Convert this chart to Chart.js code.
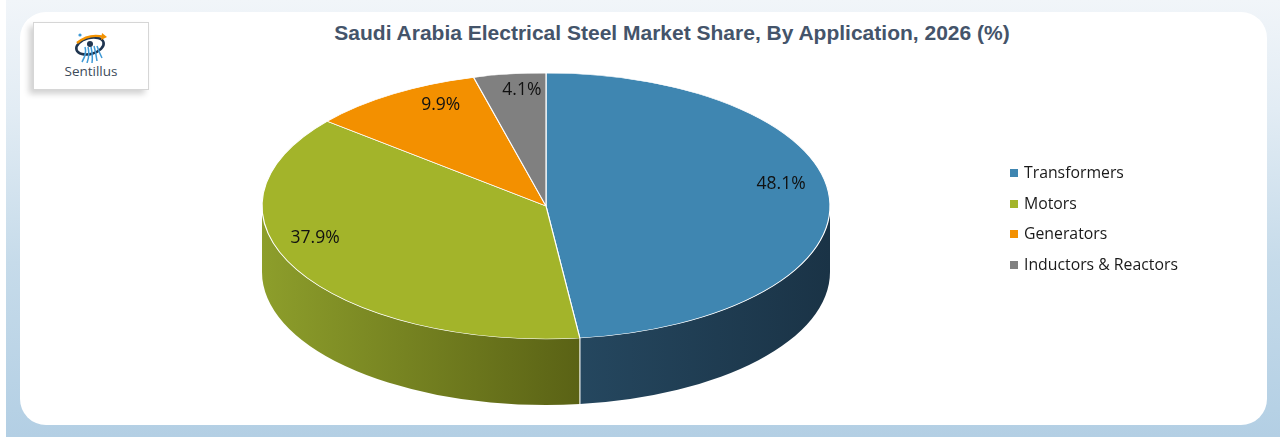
<!DOCTYPE html>
<html>
<head>
<meta charset="utf-8">
<script src="https://cdn.jsdelivr.net/npm/chart.js@4.4.1/dist/chart.umd.min.js"></script>
<style>
  html, body { margin: 0; padding: 0; background: #ffffff; }
  body { width: 1280px; height: 438px; position: relative; overflow: hidden; font-family: "Open Sans", sans-serif; }
  .frame {
    position: absolute; left: 6px; top: 0; width: 1274px; height: 437px;
    background: linear-gradient(to bottom, #f1f5f9 0%, #e2ecf4 25%, #c6dbea 60%, #b3cfe4 100%);
  }
  .card {
    position: absolute; left: 20px; top: 12px; width: 1247px; height: 413px;
    background: #ffffff; border-radius: 26px;
  }
  .logo {
    position: absolute; left: 33px; top: 22px; width: 114px; height: 66px;
    background: #ffffff; border: 1px solid #d6d6d6;
    box-shadow: -4px 4px 6px rgba(0,0,0,0.18);
  }
  .logo svg { position: absolute; left: 40px; top: 8px; }
  .logo span {
    position: absolute; left: 0; width: 114px; top: 39px; text-align: center;
    font-size: 13.5px; color: #3d4b5a;
  }
  .title {
    position: absolute; left: 0; width: 1344px; top: 21px; text-align: center;
    font-family: "Liberation Sans", Arial, sans-serif; font-weight: bold; font-size: 21px; color: #44546a;
  }
  #chart { position: absolute; left: 0; top: 0; }
  .legend { position: absolute; left: 1010px; top: 160px; }
  .legend div { height: 30.5px; line-height: 24px; font-size: 15.8px; color: #1a1a1a; white-space: nowrap; }
  .legend i { display: inline-block; width: 8px; height: 8px; margin-right: 6px; vertical-align: 1px; }
</style>
</head>
<body>
<div class="frame"></div>
<div class="card"></div>
<div class="logo">
  <svg width="34" height="32" viewBox="0 0 34 32">
    <ellipse cx="16" cy="15" rx="14" ry="8" fill="none" stroke="#1f3550" stroke-width="2.6" transform="rotate(-15 16 15)"/>
    <path d="M3 12 Q15 2 30 6" fill="none" stroke="#f39200" stroke-width="2.4"/>
    <path d="M28 2 L33 6 L27 9 Z" fill="#f39200"/>
    <path d="M11 16 Q13 23 8 31 M14 16 Q16 24 13 32 M17 16 Q19 24 18 32 M20 15 Q22 22 23 30 M23 15 Q25 21 28 27" fill="none" stroke="#3f9ad6" stroke-width="1.5"/>
    <circle cx="16" cy="13" r="3" fill="#1f3550"/>
    <circle cx="6" cy="4" r="1.6" fill="#3f9ad6"/>
  </svg>
  <span>Sentillus</span>
</div>
<div class="title">Saudi Arabia Electrical Steel Market Share, By Application, 2026 (%)</div>
<canvas id="chart" width="1280" height="438"></canvas>
<div class="legend" id="legend"></div>

<script>
// chart data
const categories = ["Transformers", "Motors", "Generators", "Inductors & Reactors"];
const shares = [48.1, 37.9, 9.9, 4.1];

// colours
const topColors = ["#3f86b1", "#a3b42a", "#f39000", "#808080"];
const sideColors = [
  ["#25475f", "#1a3346"],
  ["#8d9e2b", "#5a6215"],
  ["#b86c00", "#8a5100"],
  ["#606060", "#484848"]
];

// where the tilted pie sits on the page
const PIE = { cx: 546, cy: 206, rx: 284, ry: 133, depth: 66 };

const pie3d = {
  id: "pie3d",
  beforeDatasetsDraw(chart) {
    const ctx = chart.ctx;
    const arcs = chart.getDatasetMeta(0).data;
    if (!arcs.length) return;

    // side walls, only the front half (0..PI) can be seen
    arcs.forEach((arc, i) => {
      const a0 = Math.max(arc.startAngle, 0);
      const a1 = Math.min(arc.endAngle, Math.PI);
      if (a1 <= a0) return;
      const xs = [PIE.cx + PIE.rx * Math.cos(a0), PIE.cx + PIE.rx * Math.cos(a1)];
      const left = a1 >= Math.PI ? PIE.cx - PIE.rx : Math.min(...xs);
      const right = a0 <= 0 ? PIE.cx + PIE.rx : Math.max(...xs);
      const grad = ctx.createLinearGradient(left, 0, right, 0);
      grad.addColorStop(0, sideColors[i][0]);
      grad.addColorStop(1, sideColors[i][1]);

      ctx.save();
      ctx.beginPath();
      ctx.ellipse(PIE.cx, PIE.cy, PIE.rx, PIE.ry, 0, a0, a1);
      ctx.ellipse(PIE.cx, PIE.cy + PIE.depth, PIE.rx, PIE.ry, 0, a1, a0, true);
      ctx.closePath();
      ctx.fillStyle = grad;
      ctx.fill();

      // white edge where two slices meet on the front
      [arc.startAngle, arc.endAngle].forEach((a) => {
        if (a > 0.02 && a < Math.PI - 0.02) {
          const x = PIE.cx + PIE.rx * Math.cos(a);
          const y = PIE.cy + PIE.ry * Math.sin(a);
          ctx.beginPath();
          ctx.moveTo(x, y);
          ctx.lineTo(x, y + PIE.depth);
          ctx.strokeStyle = "rgba(255,255,255,0.85)";
          ctx.lineWidth = 1;
          ctx.stroke();
        }
      });
      ctx.restore();
    });

    // squash the round pie into the top ellipse
    const a = arcs[0];
    const R = a.outerRadius;
    ctx.save();
    ctx.translate(PIE.cx, PIE.cy);
    ctx.scale(PIE.rx / R, PIE.ry / R);
    ctx.translate(-a.x, -a.y);
  },
  afterDatasetsDraw(chart) {
    const ctx = chart.ctx;
    ctx.restore();

    // value labels, pulled in a bit more towards the far edge
    const arcs = chart.getDatasetMeta(0).data;
    ctx.save();
    ctx.font = '17.5px "Open Sans", sans-serif';
    ctx.fillStyle = "#111111";
    ctx.textAlign = "center";
    ctx.textBaseline = "middle";
    arcs.forEach((arc, i) => {
      const mid = (arc.startAngle + arc.endAngle) / 2;
      const s = Math.sin(mid);
      const x = PIE.cx + PIE.rx * Math.cos(mid) * (0.84 + 0.18 * s);
      const y = PIE.cy - 16 + PIE.ry * 0.76 * s;
      ctx.fillText(shares[i].toFixed(1) + "%", x, y);
    });
    ctx.restore();
  }
};

const chart = new Chart(document.getElementById("chart"), {
  type: "pie",
  data: {
    labels: categories,
    datasets: [{
      data: shares,
      backgroundColor: topColors,
      borderColor: "#ffffff",
      borderWidth: 0.9,
      clip: false
    }]
  },
  options: {
    responsive: false,
    animation: false,
    events: [],
    plugins: {
      legend: { display: false },
      tooltip: { enabled: false },
      title: { display: false }
    }
  },
  plugins: [pie3d]
});

// legend built from the chart's own labels
document.getElementById("legend").innerHTML = chart.data.labels
  .map((label, i) => `<div><i style="background:${topColors[i]}"></i>${label}</div>`)
  .join("");
</script>
</body>
</html>
